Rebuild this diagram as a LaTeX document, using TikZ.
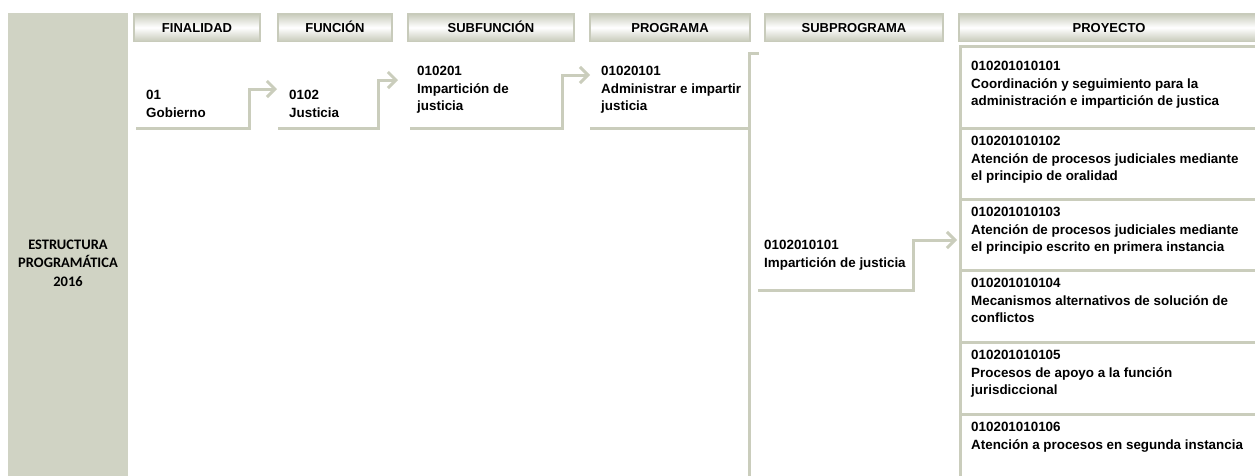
\documentclass[tikz,border=0pt]{standalone}
\usepackage{fontspec}
\setmainfont{Liberation Sans}
\newfontfamily\calib{Carlito}
\usetikzlibrary{arrows.meta}
\definecolor{ln}{RGB}{202,205,188}
\definecolor{blk}{RGB}{208,211,196}
\definecolor{hd}{RGB}{200,203,187}
\begin{document}
\begin{tikzpicture}[x=1pt,y=-1pt,
  hdr/.style={shade, top color=hd, bottom color=hd, middle color=white, draw=hd, line width=1.5pt, minimum height=27.5pt, inner sep=0pt, text height=9.5pt, text depth=0pt, font=\fontsize{13}{15}\selectfont\bfseries},
  txt/.style={anchor=north west, inner sep=0pt, align=left, font=\fontsize{13.4}{17.5}\selectfont\bfseries},
  conn/.style={draw=ln, line width=3pt},
  arr/.style={conn, -{Straight Barb[length=8pt,width=16pt]}},
  blockbox/.style={fill=blk, minimum width=120pt, minimum height=500pt, inner sep=0pt, align=center, font=\calib\bfseries\fontsize{14.5}{18.5}\selectfont},
]
\useasboundingbox (0,0) rectangle (1255,475);
\fill[white] (0,0) rectangle (1255,475);
\clip (0,0) rectangle (1255,475);

% left block
\node[blockbox] (est) at (68,263) {ESTRUCTURA\\PROGRAMÁTICA\\2016};

% headers
\node[hdr, minimum width=126pt] (hfin) at (197,27.5) {FINALIDAD};
\node[hdr, minimum width=114pt] (hfun) at (335,27.5) {FUNCIÓN};
\node[hdr, minimum width=166pt] (hsub) at (491,27.5) {SUBFUNCIÓN};
\node[hdr, minimum width=160pt] (hprg) at (670,27.5) {PROGRAMA};
\node[hdr, minimum width=178pt] (hspg) at (854,27.5) {SUBPROGRAMA};
\node[hdr, minimum width=300pt] (hpry) at (1109,27.5) {PROYECTO};

% connectors
\coordinate (c1s) at (136,128.5); \coordinate (c1e) at (277,89);
\coordinate (c2s) at (278,128.5); \coordinate (c2e) at (398,80);
\coordinate (c3s) at (410,128.5); \coordinate (c3e) at (590,75);
\coordinate (c4s) at (590,128.5);
\coordinate (trT) at (749.5,53); \coordinate (trB) at (749.5,480);
\coordinate (c5s) at (758,290); \coordinate (c5e) at (957,240);
\draw[arr] (c1s) -- ++(113,0) |- (c1e);
\draw[arr] (c2s) -- ++(100,0) |- (c2e);
\draw[arr] (c3s) -- ++(152,0) |- (c3e);
\draw[conn] (c4s) -- (c4s -| trT);
\draw[conn] (trB) -- (trT) -- ++(9,0);
\draw[arr] (c5s) -- ++(155,0) |- (c5e);

% proyecto frame
\coordinate (pT) at (960.5,45); \coordinate (pB) at (960.5,480);
\draw[conn] (pB) -- (pT);
\foreach \yy in {46,128,199,270,342,414}{
  \draw[conn] (959,\yy) -- (1260,\yy);
}

% texts
\node[txt] (fin) at (146,90) {01\\Gobierno};
\node[txt] (fun) at (289,90) {0102\\Justicia};
\node[txt] (sub) at (417,66) {010201\\Impartición de\\justicia};
\node[txt] (prg) at (601,66) {01020101\\Administrar e impartir\\justicia};
\node[txt] (spg) at (764,240) {0102010101\\Impartición de justicia};

\node[txt] (p1) at (971,61) {010201010101\\Coordinación y seguimiento para la\\administración e impartición de justica};
\node[txt] (p2) at (971,136) {010201010102\\Atención de procesos judiciales mediante\\el principio de oralidad};
\node[txt] (p3) at (971,207) {010201010103\\Atención de procesos judiciales mediante\\el principio escrito en primera instancia};
\node[txt] (p4) at (971,278) {010201010104\\Mecanismos alternativos de solución de\\conflictos};
\node[txt] (p5) at (971,350) {010201010105\\Procesos de apoyo a la función\\jurisdiccional};
\node[txt] (p6) at (971,422) {010201010106\\Atención a procesos en segunda instancia};
\end{tikzpicture}
\end{document}
